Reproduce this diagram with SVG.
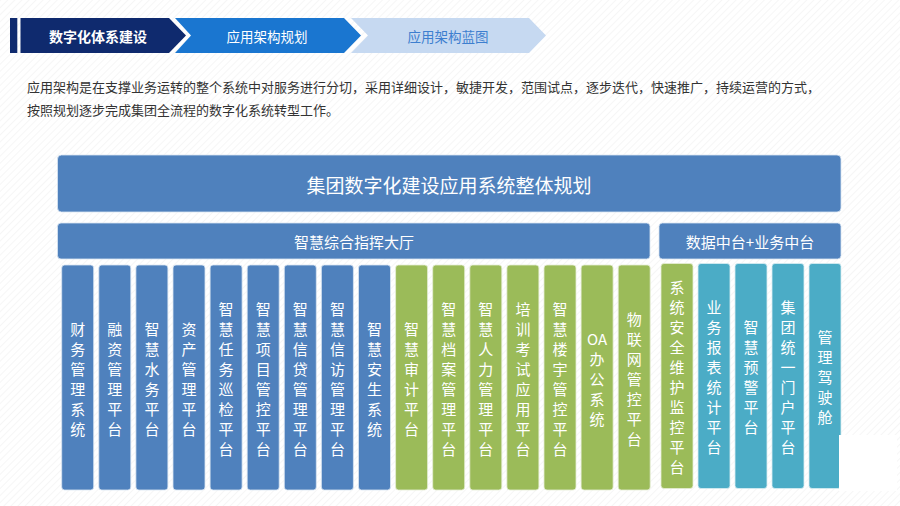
<svg xmlns="http://www.w3.org/2000/svg" width="900" height="506" viewBox="0 0 900 506">
<defs>
<pattern id="hatch" width="5" height="5" patternUnits="userSpaceOnUse" patternTransform="rotate(45)">
<rect width="5" height="5" fill="#ffffff"/>
<line x1="0" y1="0" x2="0" y2="5" stroke="#f3f3f3" stroke-width="1.5"/>
</pattern>
</defs>
<style>
text{font-family:"Noto Sans CJK SC","Microsoft YaHei",sans-serif;}
.blue{fill:#4f81bd;stroke:#dbe6f3;stroke-width:0.8;}
.green{fill:#9bbb59;stroke:#e6eed6;stroke-width:0.8;}
.teal{fill:#4bacc6;stroke:#d9eef3;stroke-width:0.8;}
.ct{fill:#ffffff;font-size:15px;text-anchor:middle;dominant-baseline:central;}
.hd{fill:#ffffff;text-anchor:middle;dominant-baseline:central;}
.para{fill:#333333;font-size:13px;}
</style>
<rect width="900" height="506" fill="url(#hatch)"/>

<g id="tabs">
<rect x="10" y="18" width="7.3" height="35" fill="#0f2a6e"/>
<polygon points="20.5,18 169,18 186,35.5 169,53 20.5,53" fill="#0f2a6e"/>
<text x="98" y="35.5" class="hd" style="font-size:14px;font-weight:bold">数字化体系建设</text>
<polygon points="175,18 344,18 361,35.5 344,53 175,53 191,35.5" fill="#1a76d0"/>
<text x="267" y="35.5" class="hd" style="font-size:13.5px">应用架构规划</text>
<polygon points="351,18 529,18 546,35.5 529,53 351,53 368,35.5" fill="#c6d9f1"/>
<text x="448" y="35.5" class="hd" style="font-size:13.5px;fill:#3d7fcf">应用架构蓝图</text>
</g>

<g id="intro">
<text x="27" y="92" class="para">应用架构是在支撑业务运转的整个系统中对服务进行分切，采用详细设计，敏捷开发，范围试点，逐步迭代，快速推广，持续运营的方式，</text>
<text x="27" y="115" class="para">按照规划逐步完成集团全流程的数字化系统转型工作。</text>
</g>

<g id="overall">
<rect x="57.5" y="155" width="783.5" height="57" rx="4" class="blue"/>
<text x="449" y="184" class="hd" style="font-size:19px">集团数字化建设应用系统整体规划</text>
</g>
<g id="command-hall">
<rect x="57.5" y="223" width="592.5" height="36" rx="3.5" class="blue"/>
<text x="354" y="241" class="hd" style="font-size:15px">智慧综合指挥大厅</text>
</g>
<g id="middle-platform">
<rect x="659" y="223" width="182" height="36" rx="3.5" class="blue"/>
<text x="750" y="241" class="hd" style="font-size:15px">数据中台+业务中台</text>
</g>

<g id="c0"><rect x="61.7" y="265" width="32" height="225" rx="3" class="blue"/><text class="ct" y="327.5"><tspan x="77.7">财</tspan><tspan x="77.7" dy="20">务</tspan><tspan x="77.7" dy="20">管</tspan><tspan x="77.7" dy="20">理</tspan><tspan x="77.7" dy="20">系</tspan><tspan x="77.7" dy="20">统</tspan></text></g>
<g id="c1"><rect x="98.8" y="265" width="32" height="225" rx="3" class="blue"/><text class="ct" y="327.5"><tspan x="114.8">融</tspan><tspan x="114.8" dy="20">资</tspan><tspan x="114.8" dy="20">管</tspan><tspan x="114.8" dy="20">理</tspan><tspan x="114.8" dy="20">平</tspan><tspan x="114.8" dy="20">台</tspan></text></g>
<g id="c2"><rect x="135.9" y="265" width="32" height="225" rx="3" class="blue"/><text class="ct" y="327.5"><tspan x="151.9">智</tspan><tspan x="151.9" dy="20">慧</tspan><tspan x="151.9" dy="20">水</tspan><tspan x="151.9" dy="20">务</tspan><tspan x="151.9" dy="20">平</tspan><tspan x="151.9" dy="20">台</tspan></text></g>
<g id="c3"><rect x="173" y="265" width="32" height="225" rx="3" class="blue"/><text class="ct" y="327.5"><tspan x="189">资</tspan><tspan x="189" dy="20">产</tspan><tspan x="189" dy="20">管</tspan><tspan x="189" dy="20">理</tspan><tspan x="189" dy="20">平</tspan><tspan x="189" dy="20">台</tspan></text></g>
<g id="c4"><rect x="210.1" y="265" width="32" height="225" rx="3" class="blue"/><text class="ct" y="307.5"><tspan x="226.1">智</tspan><tspan x="226.1" dy="20">慧</tspan><tspan x="226.1" dy="20">任</tspan><tspan x="226.1" dy="20">务</tspan><tspan x="226.1" dy="20">巡</tspan><tspan x="226.1" dy="20">检</tspan><tspan x="226.1" dy="20">平</tspan><tspan x="226.1" dy="20">台</tspan></text></g>
<g id="c5"><rect x="247.2" y="265" width="32" height="225" rx="3" class="blue"/><text class="ct" y="307.5"><tspan x="263.2">智</tspan><tspan x="263.2" dy="20">慧</tspan><tspan x="263.2" dy="20">项</tspan><tspan x="263.2" dy="20">目</tspan><tspan x="263.2" dy="20">管</tspan><tspan x="263.2" dy="20">控</tspan><tspan x="263.2" dy="20">平</tspan><tspan x="263.2" dy="20">台</tspan></text></g>
<g id="c6"><rect x="284.3" y="265" width="32" height="225" rx="3" class="blue"/><text class="ct" y="307.5"><tspan x="300.3">智</tspan><tspan x="300.3" dy="20">慧</tspan><tspan x="300.3" dy="20">信</tspan><tspan x="300.3" dy="20">贷</tspan><tspan x="300.3" dy="20">管</tspan><tspan x="300.3" dy="20">理</tspan><tspan x="300.3" dy="20">平</tspan><tspan x="300.3" dy="20">台</tspan></text></g>
<g id="c7"><rect x="321.4" y="265" width="32" height="225" rx="3" class="blue"/><text class="ct" y="307.5"><tspan x="337.4">智</tspan><tspan x="337.4" dy="20">慧</tspan><tspan x="337.4" dy="20">信</tspan><tspan x="337.4" dy="20">访</tspan><tspan x="337.4" dy="20">管</tspan><tspan x="337.4" dy="20">理</tspan><tspan x="337.4" dy="20">平</tspan><tspan x="337.4" dy="20">台</tspan></text></g>
<g id="c8"><rect x="358.5" y="265" width="32" height="225" rx="3" class="blue"/><text class="ct" y="327.5"><tspan x="374.5">智</tspan><tspan x="374.5" dy="20">慧</tspan><tspan x="374.5" dy="20">安</tspan><tspan x="374.5" dy="20">生</tspan><tspan x="374.5" dy="20">系</tspan><tspan x="374.5" dy="20">统</tspan></text></g>
<g id="c9"><rect x="395.6" y="265" width="32" height="225" rx="3" class="green"/><text class="ct" y="327.5"><tspan x="411.6">智</tspan><tspan x="411.6" dy="20">慧</tspan><tspan x="411.6" dy="20">审</tspan><tspan x="411.6" dy="20">计</tspan><tspan x="411.6" dy="20">平</tspan><tspan x="411.6" dy="20">台</tspan></text></g>
<g id="c10"><rect x="432.7" y="265" width="32" height="225" rx="3" class="green"/><text class="ct" y="307.5"><tspan x="448.7">智</tspan><tspan x="448.7" dy="20">慧</tspan><tspan x="448.7" dy="20">档</tspan><tspan x="448.7" dy="20">案</tspan><tspan x="448.7" dy="20">管</tspan><tspan x="448.7" dy="20">理</tspan><tspan x="448.7" dy="20">平</tspan><tspan x="448.7" dy="20">台</tspan></text></g>
<g id="c11"><rect x="469.8" y="265" width="32" height="225" rx="3" class="green"/><text class="ct" y="307.5"><tspan x="485.8">智</tspan><tspan x="485.8" dy="20">慧</tspan><tspan x="485.8" dy="20">人</tspan><tspan x="485.8" dy="20">力</tspan><tspan x="485.8" dy="20">管</tspan><tspan x="485.8" dy="20">理</tspan><tspan x="485.8" dy="20">平</tspan><tspan x="485.8" dy="20">台</tspan></text></g>
<g id="c12"><rect x="506.9" y="265" width="32" height="225" rx="3" class="green"/><text class="ct" y="307.5"><tspan x="522.9">培</tspan><tspan x="522.9" dy="20">训</tspan><tspan x="522.9" dy="20">考</tspan><tspan x="522.9" dy="20">试</tspan><tspan x="522.9" dy="20">应</tspan><tspan x="522.9" dy="20">用</tspan><tspan x="522.9" dy="20">平</tspan><tspan x="522.9" dy="20">台</tspan></text></g>
<g id="c13"><rect x="544" y="265" width="32" height="225" rx="3" class="green"/><text class="ct" y="307.5"><tspan x="560">智</tspan><tspan x="560" dy="20">慧</tspan><tspan x="560" dy="20">楼</tspan><tspan x="560" dy="20">宇</tspan><tspan x="560" dy="20">管</tspan><tspan x="560" dy="20">控</tspan><tspan x="560" dy="20">平</tspan><tspan x="560" dy="20">台</tspan></text></g>
<g id="c14"><rect x="581.1" y="265" width="32" height="225" rx="3" class="green"/><text class="ct" y="337.5"><tspan x="597.1">OA</tspan><tspan x="597.1" dy="20">办</tspan><tspan x="597.1" dy="20">公</tspan><tspan x="597.1" dy="20">系</tspan><tspan x="597.1" dy="20">统</tspan></text></g>
<g id="c15"><rect x="618.2" y="265" width="32" height="225" rx="3" class="green"/><text class="ct" y="317.5"><tspan x="634.2">物</tspan><tspan x="634.2" dy="20">联</tspan><tspan x="634.2" dy="20">网</tspan><tspan x="634.2" dy="20">管</tspan><tspan x="634.2" dy="20">控</tspan><tspan x="634.2" dy="20">平</tspan><tspan x="634.2" dy="20">台</tspan></text></g>

<g id="r0"><rect x="661" y="263.5" width="32" height="225" rx="3" class="green"/><text class="ct" y="285.5"><tspan x="677">系</tspan><tspan x="677" dy="20">统</tspan><tspan x="677" dy="20">安</tspan><tspan x="677" dy="20">全</tspan><tspan x="677" dy="20">维</tspan><tspan x="677" dy="20">护</tspan><tspan x="677" dy="20">监</tspan><tspan x="677" dy="20">控</tspan><tspan x="677" dy="20">平</tspan><tspan x="677" dy="20">台</tspan></text></g>
<g id="r1"><rect x="698" y="263.5" width="32" height="225" rx="3" class="teal"/><text class="ct" y="305.5"><tspan x="714">业</tspan><tspan x="714" dy="20">务</tspan><tspan x="714" dy="20">报</tspan><tspan x="714" dy="20">表</tspan><tspan x="714" dy="20">统</tspan><tspan x="714" dy="20">计</tspan><tspan x="714" dy="20">平</tspan><tspan x="714" dy="20">台</tspan></text></g>
<g id="r2"><rect x="735" y="263.5" width="32" height="225" rx="3" class="teal"/><text class="ct" y="325.5"><tspan x="751">智</tspan><tspan x="751" dy="20">慧</tspan><tspan x="751" dy="20">预</tspan><tspan x="751" dy="20">警</tspan><tspan x="751" dy="20">平</tspan><tspan x="751" dy="20">台</tspan></text></g>
<g id="r3"><rect x="772" y="263.5" width="32" height="225" rx="3" class="teal"/><text class="ct" y="305.5"><tspan x="788">集</tspan><tspan x="788" dy="20">团</tspan><tspan x="788" dy="20">统</tspan><tspan x="788" dy="20">一</tspan><tspan x="788" dy="20">门</tspan><tspan x="788" dy="20">户</tspan><tspan x="788" dy="20">平</tspan><tspan x="788" dy="20">台</tspan></text></g>
<g id="r4"><rect x="809" y="263.5" width="32" height="225" rx="3" class="teal"/><text class="ct" y="335.5"><tspan x="825">管</tspan><tspan x="825" dy="20">理</tspan><tspan x="825" dy="20">驾</tspan><tspan x="825" dy="20">驶</tspan><tspan x="825" dy="20">舱</tspan></text></g>

<g id="connectors"/>
<rect x="839" y="435" width="58" height="56" fill="#ffffff"/>
</svg>
